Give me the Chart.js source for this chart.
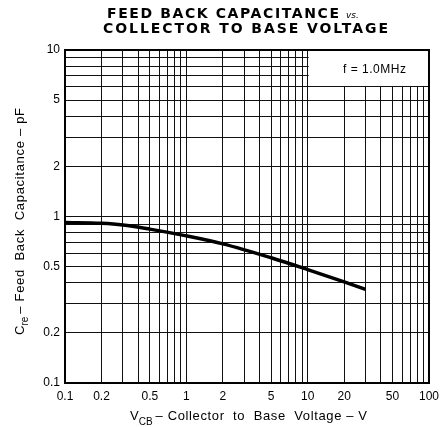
<!DOCTYPE html>
<html>
<head>
<meta charset="utf-8">
<script src="https://cdn.jsdelivr.net/npm/chart.js@4/dist/chart.umd.min.js"></script>
<style>
  html, body { margin: 0; padding: 0; background: #fff; }
  #wrap { width: 445px; height: 427px; }
</style>
</head>
<body>
<div id="wrap"><canvas id="plot" width="445" height="427"></canvas></div>
<script>
// Curve (V, pF)
const voltage = [0.1, 0.2, 0.3, 0.5, 1, 2, 5, 10, 20, 30];
const capacitance = [0.92, 0.91, 0.89, 0.84, 0.765, 0.685, 0.565, 0.48, 0.405, 0.365];

// Grid positions and labelled ticks
const xGrid = [0.1,0.2,0.3,0.4,0.5,0.6,0.7,0.8,0.9,1,2,3,4,5,6,7,8,9,10,20,30,40,50,60,70,80,90,100];
const yGrid = [0.1,0.2,0.3,0.4,0.5,0.6,0.7,0.8,0.9,1,2,3,4,5,6,7,8,9,10];
const xLabels = [0.1, 0.2, 0.5, 1, 2, 5, 10, 20, 50, 100];
const yLabels = [0.1, 0.2, 0.5, 1, 2, 5, 10];

const titleLines = ['FEED BACK CAPACITANCE', 'COLLECTOR TO BASE VOLTAGE'];
const noteText = 'f = 1.0MHz';

const labelFont = '"Liberation Sans", Arial, sans-serif';

// Draws text with a fixed overall width by spreading letters
function spacedText(ctx, text, x, y, width) {
  ctx.letterSpacing = '0px';
  const w = ctx.measureText(text).width;
  const ls = (width - w) / Math.max(text.length - 1, 1);
  ctx.letterSpacing = ls + 'px';
  ctx.textAlign = 'left';
  ctx.fillText(text, x, y);
  ctx.letterSpacing = '0px';
}

// Title, axis titles with subscripts, border and the frequency note
const decorations = {
  id: 'decorations',
  beforeDatasetsDraw(chart) {
    const ctx = chart.ctx;
    const a = chart.chartArea;
    // white box behind the note
    ctx.save();
    ctx.fillStyle = '#fff';
    const bx = chart.scales.x.getPixelForValue(10);
    const by = chart.scales.y.getPixelForValue(6);
    ctx.fillRect(bx + 1, a.top, a.right - bx - 1, by - a.top - 1);
    ctx.fillStyle = '#000';
    ctx.font = '12px ' + labelFont;
    ctx.textBaseline = 'middle';
    spacedText(ctx, noteText, 343, 70, 63);
    ctx.restore();
  },
  afterDraw(chart) {
    const ctx = chart.ctx;
    const a = chart.chartArea;
    ctx.save();
    ctx.fillStyle = '#000';
    ctx.textBaseline = 'alphabetic';

    // chart title
    ctx.font = 'bold 14px "DejaVu Sans", sans-serif';
    spacedText(ctx, titleLines[0], 107, 18, 232);
    ctx.font = 'italic 9px "DejaVu Sans", sans-serif';
    ctx.textAlign = 'left';
    ctx.fillText('vs.', 346, 18);
    ctx.font = 'bold 14px "DejaVu Sans", sans-serif';
    spacedText(ctx, titleLines[1], 103, 33, 285);

    // x axis title
    ctx.font = '13px ' + labelFont;
    let x = 130;
    ctx.fillText('V', x, 420);
    x += ctx.measureText('V').width;
    ctx.font = '10px ' + labelFont;
    ctx.fillText('CB', x, 425);
    x += ctx.measureText('CB').width + 3;
    ctx.font = '13px ' + labelFont;
    spacedText(ctx, '– Collector  to  Base  Voltage – V', x, 420, 367 - x);
    ctx.restore();

    // y axis title (rotated)
    ctx.save();
    ctx.fillStyle = '#000';
    ctx.textBaseline = 'alphabetic';
    ctx.translate(24, 335);
    ctx.rotate(-Math.PI / 2);
    ctx.font = '13px ' + labelFont;
    let t = 0;
    ctx.textAlign = 'left';
    ctx.fillText('C', t, 0);
    t += ctx.measureText('C').width;
    ctx.font = '10px ' + labelFont;
    ctx.fillText('re', t, 4);
    t += ctx.measureText('re').width + 3;
    ctx.font = '13px ' + labelFont;
    spacedText(ctx, '– Feed  Back  Capacitance – pF', t, 0, 227 - t);
    ctx.restore();

    // heavy frame
    ctx.save();
    ctx.strokeStyle = '#000';
    ctx.lineWidth = 2;
    ctx.strokeRect(a.left, a.top, a.right - a.left, a.bottom - a.top);
    ctx.restore();
  }
};

const chart = new Chart(document.getElementById('plot').getContext('2d'), {
  type: 'scatter',
  data: {
    datasets: [{
      data: voltage.map((v, i) => ({ x: v, y: capacitance[i] })),
      showLine: true,
      borderColor: '#000',
      borderWidth: 3.5,
      pointRadius: 0,
      cubicInterpolationMode: 'monotone'
    }]
  },
  options: {
    responsive: false,
    animation: false,
    devicePixelRatio: 1,
    layout: { padding: { top: 50, right: 8, left: 0, bottom: 0 } },
    plugins: { legend: { display: false }, tooltip: { enabled: false } },
    scales: {
      x: {
        type: 'logarithmic',
        min: 0.1,
        max: 100,
        afterBuildTicks: (s) => { s.ticks = xGrid.map(v => ({ value: v })); },
        afterFit: (s) => { s.height = 44; },
        grid: { color: '#111', lineWidth: 1, drawTicks: false },
        border: { display: false },
        ticks: {
          autoSkip: false,
          minRotation: 0,
          maxRotation: 0,
          padding: 6,
          color: '#000',
          font: { family: labelFont, size: 12 },
          callback: (v) => xLabels.includes(v) ? String(v) : ''
        }
      },
      y: {
        type: 'logarithmic',
        min: 0.1,
        max: 10,
        afterBuildTicks: (s) => { s.ticks = yGrid.map(v => ({ value: v })); },
        afterFit: (s) => { s.width = 65; },
        grid: { color: '#111', lineWidth: 1, drawTicks: false },
        border: { display: false },
        ticks: {
          autoSkip: false,
          minRotation: 0,
          maxRotation: 0,
          padding: 5,
          color: '#000',
          font: { family: labelFont, size: 12 },
          callback: (v) => yLabels.includes(v) ? String(v) : ''
        }
      }
    }
  },
  plugins: [decorations]
});
</script>
</body>
</html>
